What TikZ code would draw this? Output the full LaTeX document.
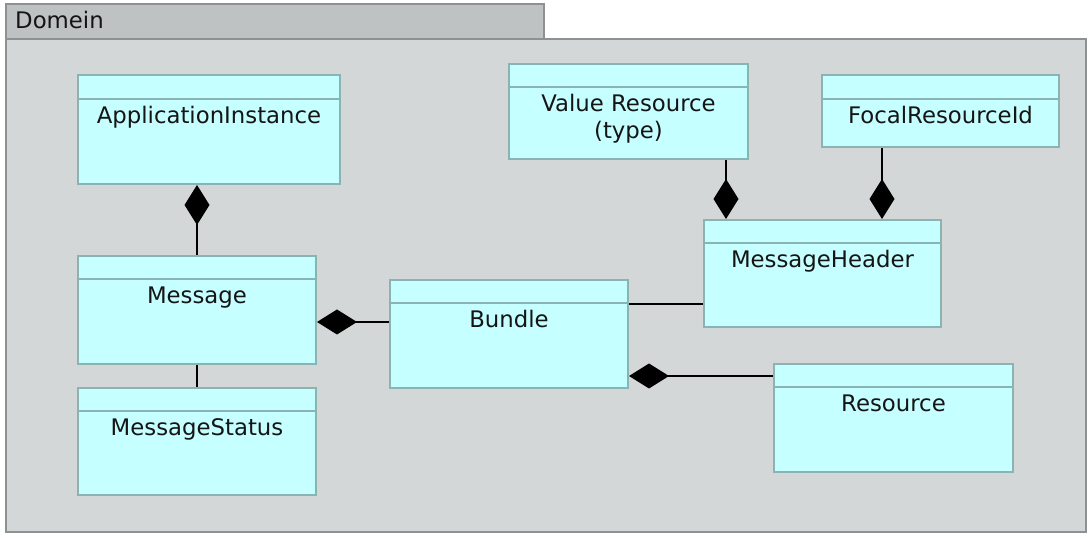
\documentclass[tikz,border=0pt]{standalone}
\usepackage{fontspec}
\setmainfont{DejaVu Sans}
\usetikzlibrary{arrows.meta}
\definecolor{clsfill}{HTML}{C6FFFF}
\definecolor{clsdraw}{HTML}{8AB4B4}
\definecolor{pkgfill}{HTML}{D3D7D8}
\definecolor{tabfill}{HTML}{BEC2C3}
\definecolor{pkgdraw}{HTML}{8E9191}
\definecolor{txt}{HTML}{151515}
\begin{document}
\begin{tikzpicture}[x=1pt,y=-1pt,
  cls/.style={draw=clsdraw, fill=clsfill, line width=2pt, inner sep=0pt, anchor=north west},
  divline/.style={draw=clsdraw, line width=2pt},
  lbl/.style={anchor=base, inner sep=0pt, text=txt, font=\fontsize{22.8}{27}\selectfont},
  conn/.style={draw=black, line width=2pt},
  comp/.style={{Diamond[length=40pt,width=25pt]}-},
  pkg/.style={draw=pkgdraw, line width=2pt, inner sep=0pt, anchor=north west}
]
\useasboundingbox (0,0) rectangle (1088,534);
\fill[white] (0,0) rectangle (1088,534);
% package frame
\node[pkg, fill=tabfill, minimum width=538pt, minimum height=35pt] (tab) at (5,3) {};
\node[pkg, fill=pkgfill, minimum width=1080pt, minimum height=493pt] (pkgbox) at (5,38) {};
\node[lbl, anchor=base west] (title) at (15,29) {Domein};

% classes
\newcommand{\umlclass}[7]{%
  \node[cls, minimum width=#4pt, minimum height=#5pt] (#1) at (#2,#3) {};
  \draw[divline] ([yshift=-#6pt]#1.north west) -- ([yshift=-#6pt]#1.north east);
  \node[lbl] (#1-l) at ([yshift=-#6pt-25pt]#1.north) {#7};
}
\umlclass{ai}{77}{74}{262}{109}{25}{ApplicationInstance}
\umlclass{msg}{77}{255}{238}{108}{24}{Message}
\umlclass{ms}{77}{387}{238}{107}{24}{MessageStatus}
\umlclass{bun}{389}{279}{238}{108}{24}{Bundle}
\umlclass{fr}{821}{74}{237}{72}{25}{FocalResourceId}
\umlclass{mh}{703}{219}{237}{107}{24}{MessageHeader}
\umlclass{res}{773}{363}{239}{108}{24}{Resource}
% Value Resource (two lines)
\node[cls, minimum width=239pt, minimum height=95pt] (vr) at (508,63) {};
\draw[divline] ([yshift=-24pt]vr.north west) -- ([yshift=-24pt]vr.north east);
\node[lbl] (vr-l) at ([yshift=-49pt]vr.north) {Value Resource};
\node[lbl] (vr-l2) at ([yshift=-76pt]vr.north) {(type)};

% connectors
\draw[conn, comp] (msg.north |- ai.south) -- (msg.north);
\draw[conn] (msg.south) -- (ms.north);
\draw[conn, comp] ([yshift=-12pt]msg.east) -- ([yshift=12pt]bun.west);
\draw[conn] ([yshift=30pt]bun.east) -- ([yshift=30pt]bun.east -| mh.west);
\draw[conn, comp] ([yshift=-42pt]bun.east) -- ([yshift=-42pt]bun.east -| res.west);
\draw[conn, comp] ([xshift=-96.5pt]mh.north) -- ([xshift=-96.5pt]mh.north |- vr.south);
\draw[conn, comp] ([xshift=59.5pt]mh.north) -- ([xshift=59.5pt]mh.north |- fr.south);
\end{tikzpicture}
\end{document}
